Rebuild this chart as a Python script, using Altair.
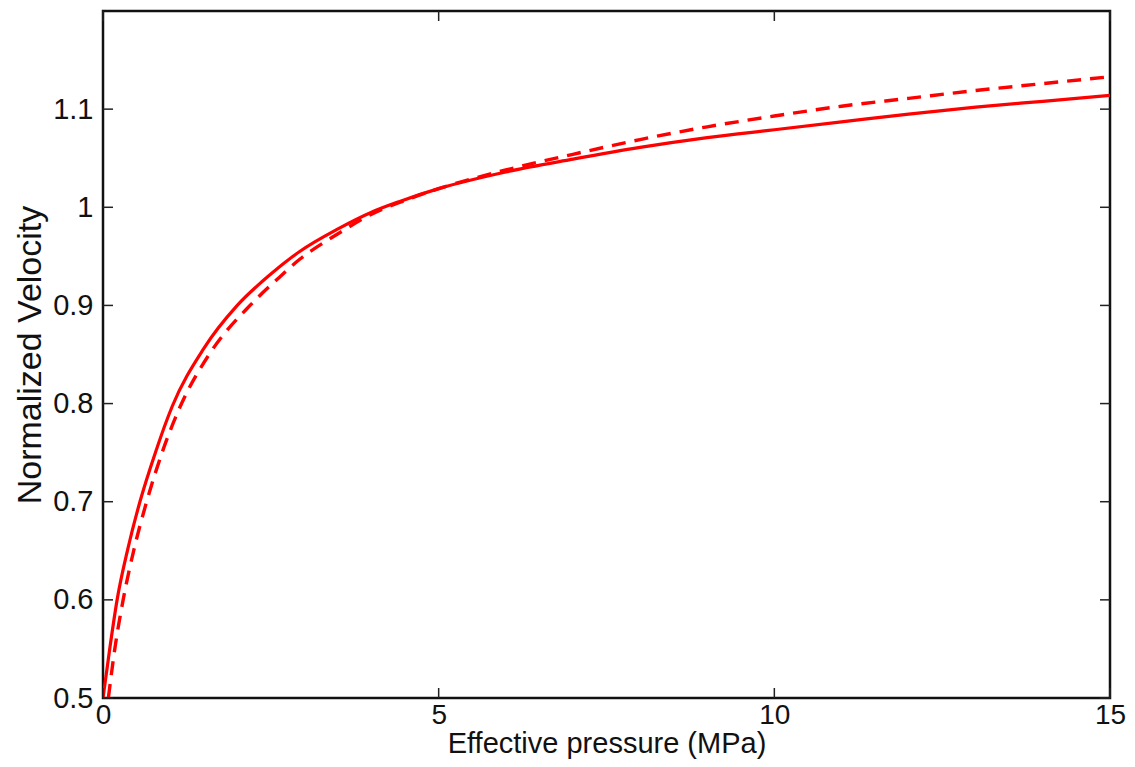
import altair as alt
import pandas as pd

# Solid curve (pressure MPa, normalized velocity)
solid_p = [0.0, 0.1, 0.21, 0.37, 0.55, 0.78, 1.03, 1.5, 2.0, 2.5, 2.93, 3.5, 4.0, 4.42, 5.0, 6.0, 7.0, 8.0, 9.0, 10.0, 11.0, 12.0, 13.0, 14.0, 15.0]
solid_v = [0.5, 0.55, 0.6, 0.652, 0.70, 0.75, 0.797, 0.856, 0.90, 0.932, 0.955, 0.978, 0.995, 1.006, 1.019, 1.036, 1.049, 1.061, 1.071, 1.079, 1.087, 1.095, 1.102, 1.108, 1.114]

# Dashed curve
dash_p = [0.08, 0.18, 0.30, 0.46, 0.65, 0.88, 1.15, 1.6, 2.19, 2.6, 2.93, 3.5, 4.0, 4.5, 5.0, 6.0, 7.0, 8.0, 9.0, 10.0, 11.0, 12.0, 13.0, 14.0, 15.0]
dash_v = [0.5, 0.552, 0.6, 0.651, 0.70, 0.75, 0.797, 0.852, 0.90, 0.927, 0.947, 0.973, 0.993, 1.007, 1.019, 1.038, 1.054, 1.069, 1.082, 1.093, 1.103, 1.111, 1.119, 1.126, 1.133]

x_ticks = [0, 5, 10, 15]
y_ticks = [0.5, 0.6, 0.7, 0.8, 0.9, 1.0, 1.1]

W, H = 1007, 687
TL = 10

solid_df = pd.DataFrame({"p": solid_p, "v": solid_v})
dash_df = pd.DataFrame({"p": dash_p, "v": dash_v})

xs = alt.Scale(domain=[0, 15], nice=False, zero=False)
ys = alt.Scale(domain=[0.5, 1.2], nice=False, zero=False)

font = "Liberation Sans"

x_enc = alt.X("p:Q", scale=xs, title="Effective pressure (MPa)",
              axis=alt.Axis(values=x_ticks, format="~g", ticks=False, domain=False, grid=False,
                            labelFontSize=28, labelPadding=3, labelColor="#111",
                            titleFontSize=29, titleFont=font, labelFont=font,
                            titleFontWeight="normal", titlePadding=0, titleColor="#111",
                            labelFlush=False))
y_enc = alt.Y("v:Q", scale=ys, title="Normalized Velocity",
              axis=alt.Axis(values=y_ticks, format="~g", ticks=False, domain=False, grid=False,
                            labelFontSize=29, labelPadding=10, labelColor="#111",
                            titleFontSize=34, titleFont=font, labelFont=font,
                            titleFontWeight="normal", titlePadding=5, titleColor="#111",
                            labelFlush=False))

solid = alt.Chart(solid_df).mark_line(
    color="#ff0000", strokeWidth=3.2, interpolate="monotone", clip=True
).encode(x=x_enc, y=y_enc)

dashed = alt.Chart(dash_df).mark_line(
    color="#ff0000", strokeWidth=3.4, strokeDash=[14, 9], interpolate="monotone", clip=True
).encode(x=alt.X("p:Q", scale=xs), y=alt.Y("v:Q", scale=ys))

ydf = pd.DataFrame({"v": y_ticks})
xdf = pd.DataFrame({"p": x_ticks})

ytick_l = alt.Chart(ydf).mark_rule(color="#222", strokeWidth=1.5).encode(
    y=alt.Y("v:Q", scale=ys), x=alt.value(0), x2=alt.value(TL))
ytick_r = alt.Chart(ydf).mark_rule(color="#222", strokeWidth=1.5).encode(
    y=alt.Y("v:Q", scale=ys), x=alt.value(W - TL), x2=alt.value(W))
xtick_b = alt.Chart(xdf).mark_rule(color="#222", strokeWidth=1.5).encode(
    x=alt.X("p:Q", scale=xs), y=alt.value(H - TL), y2=alt.value(H))
xtick_t = alt.Chart(xdf).mark_rule(color="#222", strokeWidth=1.5).encode(
    x=alt.X("p:Q", scale=xs), y=alt.value(0), y2=alt.value(TL))

chart = alt.layer(solid, dashed, ytick_l, ytick_r, xtick_b, xtick_t).properties(
    width=W, height=H,
    autosize=alt.AutoSizeParams(type="none"),
    padding={"left": 95, "top": 3, "right": 17, "bottom": 61},
    background="white",
).configure_view(
    stroke="#111", strokeWidth=2.5
)

chart.save("out.html", embed_options={"renderer": "svg", "actions": False})
